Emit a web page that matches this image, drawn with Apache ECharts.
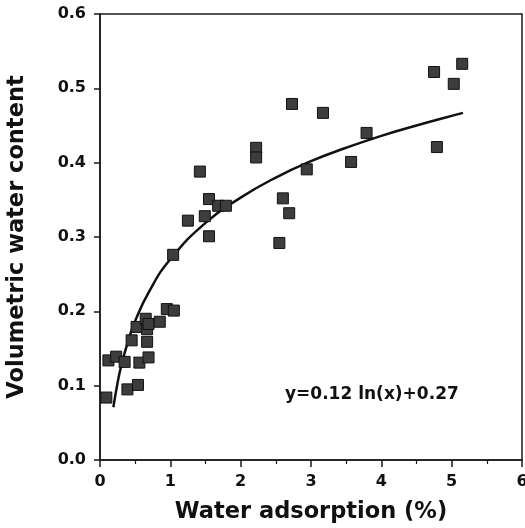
<!DOCTYPE html>
<html>
<head>
<meta charset="utf-8">
<script src="https://cdn.jsdelivr.net/npm/echarts@6/dist/echarts.min.js"></script>
<style>html,body{margin:0;padding:0;background:#fff}#c{width:525px;height:528px}</style>
</head>
<body>
<div id="c"></div>
<script>
// Measured points: [water adsorption %, volumetric water content]
const obsX = [0.09, 0.12, 0.23, 0.35, 0.39, 0.54, 0.45, 0.52, 0.56, 0.65, 0.67, 0.69, 0.67, 0.69, 0.85, 0.95, 1.05,
              1.04, 1.25, 1.49, 1.55, 1.55, 1.68, 1.79, 1.42, 2.22, 2.22,
              2.55, 2.60, 2.69, 2.73, 2.94, 3.17, 3.57, 3.79, 4.75, 4.79, 5.03, 5.15];
const obsY = [0.084, 0.134, 0.139, 0.132, 0.095, 0.101, 0.161, 0.179, 0.131, 0.190, 0.176, 0.138, 0.159, 0.183, 0.186, 0.203, 0.201,
              0.276, 0.322, 0.328, 0.351, 0.301, 0.342, 0.342, 0.388, 0.420, 0.407,
              0.292, 0.352, 0.332, 0.479, 0.391, 0.467, 0.401, 0.440, 0.522, 0.421, 0.506, 0.533];
// Fitted curve
const fitX = [0.19, 0.25, 0.3, 0.4, 0.5, 0.7, 1.0, 1.5, 2.0, 2.5, 3.0, 3.5, 4.0, 4.5, 5.0, 5.16];
const fitY = [0.071, 0.104, 0.126, 0.160, 0.187, 0.227, 0.270, 0.319, 0.353, 0.380, 0.402, 0.420, 0.436, 0.450, 0.463, 0.467];
const xTicks = [0, 1, 2, 3, 4, 5, 6];
const yTicks = ['0.0', '0.1', '0.2', '0.3', '0.4', '0.5', '0.6'];
const equation = 'y=0.12 ln(x)+0.27';

const FONT = 'DejaVu Sans';
const chart = echarts.init(document.getElementById('c'), null, {renderer: 'canvas'});
chart.setOption({
  animation: false,
  backgroundColor: '#fff',
  grid: {left: 100, right: 3, top: 14, bottom: 68, show: true, borderColor: '#1a1a1a', borderWidth: 1.5,
         containLabel: false, outerBoundsMode: 'none'},
  xAxis: {
    type: 'value', min: xTicks[0], max: xTicks[xTicks.length - 1], interval: 1,
    name: 'Water adsorption (%)', nameLocation: 'middle', nameGap: 41,
    nameTextStyle: {fontFamily: FONT, fontWeight: 'bold', fontSize: 22.5, color: '#111'},
    axisLine: {lineStyle: {color: '#1a1a1a', width: 1.5}},
    axisTick: {inside: false, length: 7, lineStyle: {color: '#1a1a1a', width: 1.5}},
    minorTick: {show: true, splitNumber: 2, length: 4, lineStyle: {color: '#1a1a1a', width: 1.2}},
    splitLine: {show: false},
    axisLabel: {fontFamily: FONT, fontWeight: 'bold', fontSize: 16, color: '#111', margin: 14,
      formatter: v => String(v)}
  },
  yAxis: {
    type: 'value', min: 0, max: 0.6, interval: 0.1,
    name: 'Volumetric water content', nameLocation: 'middle', nameGap: 71,
    nameTextStyle: {fontFamily: FONT, fontWeight: 'bold', fontSize: 22.5, color: '#111'},
    axisLine: {show: true, lineStyle: {color: '#1a1a1a', width: 1.5}},
    axisTick: {show: true, inside: false, length: 6, lineStyle: {color: '#1a1a1a', width: 1.5}},
    splitLine: {show: false},
    axisLabel: {fontFamily: FONT, fontWeight: 'bold', fontSize: 16, color: '#111', margin: 14,
      formatter: v => yTicks[Math.round(v * 10)]}
  },
  graphic: [{
    type: 'text', left: 285, top: 386,
    style: {text: equation, fontFamily: FONT, fontWeight: 'bold', fontSize: 17, fill: '#111'}
  }],
  series: [
    {
      type: 'line', data: fitX.map((x, i) => [x, fitY[i]]), smooth: true, showSymbol: false,
      lineStyle: {color: '#111', width: 2.5}, z: 2
    },
    {
      type: 'scatter', data: obsX.map((x, i) => [x, obsY[i]]), symbol: 'rect', symbolSize: 11,
      itemStyle: {color: '#3d3d3d', borderColor: '#111', borderWidth: 1, opacity: 1}, z: 3
    }
  ]
});
</script>
</body>
</html>
